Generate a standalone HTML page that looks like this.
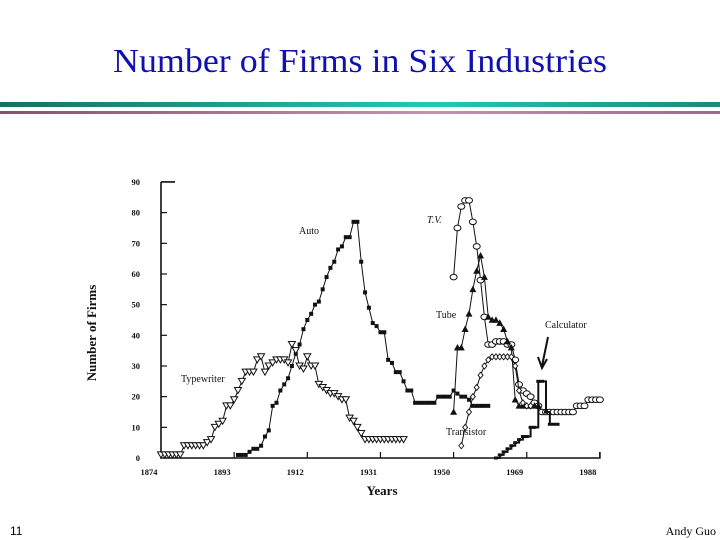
<!DOCTYPE html>
<html><head><meta charset="utf-8"><style>
html,body{margin:0;padding:0;background:#fff}
svg{display:block}
</style></head><body>
<svg id="c" width="720" height="540" viewBox="0 0 720 540" xmlns="http://www.w3.org/2000/svg">
<defs>
<linearGradient id="tg" x1="0" x2="1" y1="0" y2="0"><stop offset="0" stop-color="#177060"/><stop offset="0.6" stop-color="#22c8b8"/><stop offset="1" stop-color="#1a8a7a"/></linearGradient>
<linearGradient id="pg" x1="0" x2="1" y1="0" y2="0"><stop offset="0" stop-color="#8a5070"/><stop offset="0.6" stop-color="#c890b0"/><stop offset="1" stop-color="#a06888"/></linearGradient>
</defs>
<text x="360" y="72" text-anchor="middle" textLength="494" lengthAdjust="spacingAndGlyphs" font-family="Liberation Serif, serif" font-size="34" fill="#1010b0">Number of Firms in Six Industries</text>
<rect x="0" y="102" width="720" height="5" fill="url(#tg)"/>
<rect x="0" y="111" width="720" height="3" fill="url(#pg)"/>
<text x="10" y="535" font-family="Liberation Sans, sans-serif" font-size="12">11</text>
<text x="716" y="535" text-anchor="end" font-family="Liberation Serif, serif" font-size="12">Andy Guo</text>
<g id="plot"></g>
</svg>
<script>
const yTicks=[0,10,20,30,40,50,60,70,80,90];
const xTicks=[1874,1893,1912,1931,1950,1969,1988];
const autoYears=[1894,1895,1896,1897,1898,1899,1900,1901,1902,1903,1904,1905,1906,1907,1908,1909,1910,1911,1912,1913,1914,1915,1916,1917,1918,1919,1920,1921,1922,1923,1924,1925,1926,1927,1928,1929,1930,1931,1932,1933,1934,1935,1936,1937,1938,1939,1940,1941,1942,1943,1944,1945,1946,1947,1948,1949,1950,1951,1952,1953,1954,1955,1956,1957,1958,1959];
const autoVals=[1,1,1,2,3,3,4,7,9,17,18,22,24,26,30,34,37,42,45,47,50,51,55,59,62,64,68,69,72,72,77,77,64,54,49,44,43,41,41,32,31,28,28,25,22,22,18,18,18,18,18,18,20,20,20,20,22,21,20,20,19,17,17,17,17,17];
const typeYears=[1874,1875,1876,1877,1878,1879,1880,1881,1882,1883,1884,1885,1886,1887,1888,1889,1890,1891,1892,1893,1894,1895,1896,1897,1898,1899,1900,1901,1902,1903,1904,1905,1906,1907,1908,1909,1910,1911,1912,1913,1914,1915,1916,1917,1918,1919,1920,1921,1922,1923,1924,1925,1926,1927,1928,1929,1930,1931,1932,1933,1934,1935,1936,1937];
const typeVals=[1,1,1,1,1,1,4,4,4,4,4,4,5,6,10,11,12,17,17,19,22,25,28,28,28,32,33,28,30,31,32,32,32,31,37,35,30,29,33,30,30,24,23,22,21,21,20,19,19,13,12,10,8,6,6,6,6,6,6,6,6,6,6,6];
const tvYears=[1950,1951,1952,1953,1954,1955,1956,1957,1958,1959,1960,1961,1962,1963,1964,1965,1966,1967,1968,1969,1970,1971,1972,1973,1974,1975,1976,1977,1978,1979,1980,1981,1982,1983,1984,1985,1986,1987,1988];
const tvVals=[59,75,82,84,84,77,69,58,46,37,37,38,38,38,37,37,32,24,22,21,20,18,17,15,15,15,15,15,15,15,15,15,17,17,17,19,19,19,19];
const tubeYears=[1950,1951,1952,1953,1954,1955,1956,1957,1958,1959,1960,1961,1962,1963,1964,1965,1966,1967,1968,1969,1970,1971,1972];
const tubeVals=[15,36,36,42,47,55,61,66,59,46,45,45,44,42,38,36,19,17,17,17,17,17,17];
const trYears=[1952,1953,1954,1955,1956,1957,1958,1959,1960,1961,1962,1963,1964,1965,1966,1967,1968,1969,1970];
const trVals=[4,10,15,20,23,27,30,32,33,33,33,33,33,33,30,22,18,17,17];
const calcYears=[1961,1962,1963,1964,1965,1966,1967,1968,1969,1970,1971,1972,1973,1974,1975,1976,1977];
const calcVals=[0,1,2,3,4,5,6,7,7,10,10,25,25,15,11,11,11];

const X=y=>161+(y-1874)*3.85;
const Y=v=>458-v*3.067;
const NS="http://www.w3.org/2000/svg";
const g=document.getElementById('plot');
function mk(t,a,p){const e=document.createElementNS(NS,t);for(const k in a)e.setAttribute(k,a[k]);(p||g).appendChild(e);return e;}
const F='Liberation Serif, serif';
let e;
e=mk('path',{d:`M${X(1874)} ${Y(90)} H${X(1874)+14} M${X(1874)} ${Y(90)} V${Y(0)} H${X(1988)} V${Y(0)-6}`,fill:'none',stroke:'#111','stroke-width':1.6});


yTicks.forEach(v=>{
 const t=mk('text',{x:140,y:Y(v)+3,'text-anchor':'end','font-family':F,'font-size':8.5,'font-weight':'bold',fill:'#111'});t.textContent=v;
 
 
 if(v>0&&v<90){const k=mk('line',{x1:X(1874),x2:X(1874)+6,y1:Y(v),y2:Y(v),stroke:'#111','stroke-width':1.2});
 
 }
});
xTicks.forEach(yr=>{
 const t=mk('text',{x:X(yr)-12,y:475,'text-anchor':'middle','font-family':F,'font-size':8.5,'font-weight':'bold',fill:'#111'});t.textContent=yr;
 
 
 const k=mk('line',{x1:X(yr),x2:X(yr),y1:Y(0),y2:Y(0)-6,stroke:'#111','stroke-width':1.2});
 
 
});
e=mk('text',{x:382,y:495,'text-anchor':'middle','font-family':F,'font-size':13,'font-weight':'bold',fill:'#111'});e.textContent='Years';


e=mk('text',{x:96,y:333,'text-anchor':'middle','font-family':F,'font-size':13,'font-weight':'bold',fill:'#111',transform:'rotate(-90 96 333)'});e.textContent='Number of Firms';



function series(name,ys,vs,marker,step){
 const sg=mk('g',{});
 
 
 let d='';
 ys.forEach((yr,i)=>{const x=X(yr),y=Y(vs[i]);
  if(i===0)d+=`M${x} ${y}`;else if(step)d+=` H${x} V${y}`;else d+=` L${x} ${y}`;});
 const l=mk('path',{d:d,fill:'none',stroke:'#111','stroke-width':step?2:1},sg);
 
 
 ys.forEach((yr,i)=>{const x=X(yr),y=Y(vs[i]);let m;
  if(marker==='sq')m=mk('rect',{x:x-2,y:y-2,width:4,height:4,fill:'#111'},sg);
  else if(marker==='dtri')m=mk('path',{d:`M${x-3.5} ${y-3} H${x+3.5} L${x} ${y+3}Z`,fill:'#fff',stroke:'#111','stroke-width':1},sg);
  else if(marker==='utri')m=mk('path',{d:`M${x-3} ${y+2.5} H${x+3} L${x} ${y-3}Z`,fill:'#111',stroke:'#111','stroke-width':0.6},sg);
  else if(marker==='circ')m=mk('ellipse',{cx:x,cy:y,rx:3.5,ry:2.8,fill:'#fff',stroke:'#111','stroke-width':1},sg);
  else if(marker==='dia')m=mk('path',{d:`M${x} ${y-3}L${x+2.5} ${y}L${x} ${y+3}L${x-2.5} ${y}Z`,fill:'#fff',stroke:'#111','stroke-width':0.9},sg);
  else m=mk('rect',{x:x-2,y:y-1.5,width:4,height:3,fill:'#111'},sg);
  
  
 });
}
series('auto',autoYears,autoVals,'sq',false);
series('typewriter',typeYears,typeVals,'dtri',false);
series('tv',tvYears,tvVals,'circ',false);
series('tube',tubeYears,tubeVals,'utri',false);
series('transistor',trYears,trVals,'dia',false);
series('calculator',calcYears,calcVals,'cal',true);

function lab(txt,x,y,name,it){const t=mk('text',{x:x,y:y,'font-family':F,'font-size':10,fill:'#111','font-style':it?'italic':'normal'});t.textContent=txt;
 
 }
lab('Auto',299,234,'label-auto');
lab('Typewriter',181,382,'label-typewriter');
lab('T.V.',427,223,'label-tv',true);
lab('Tube',436,318,'label-tube');
lab('Calculator',545,328,'label-calculator');
lab('Transistor',446,435,'label-transistor');
e=mk('path',{d:'M548 337 L542 366 M538 357 L542 368 L547 359',fill:'none',stroke:'#111','stroke-width':2});


</script>
</body></html>
